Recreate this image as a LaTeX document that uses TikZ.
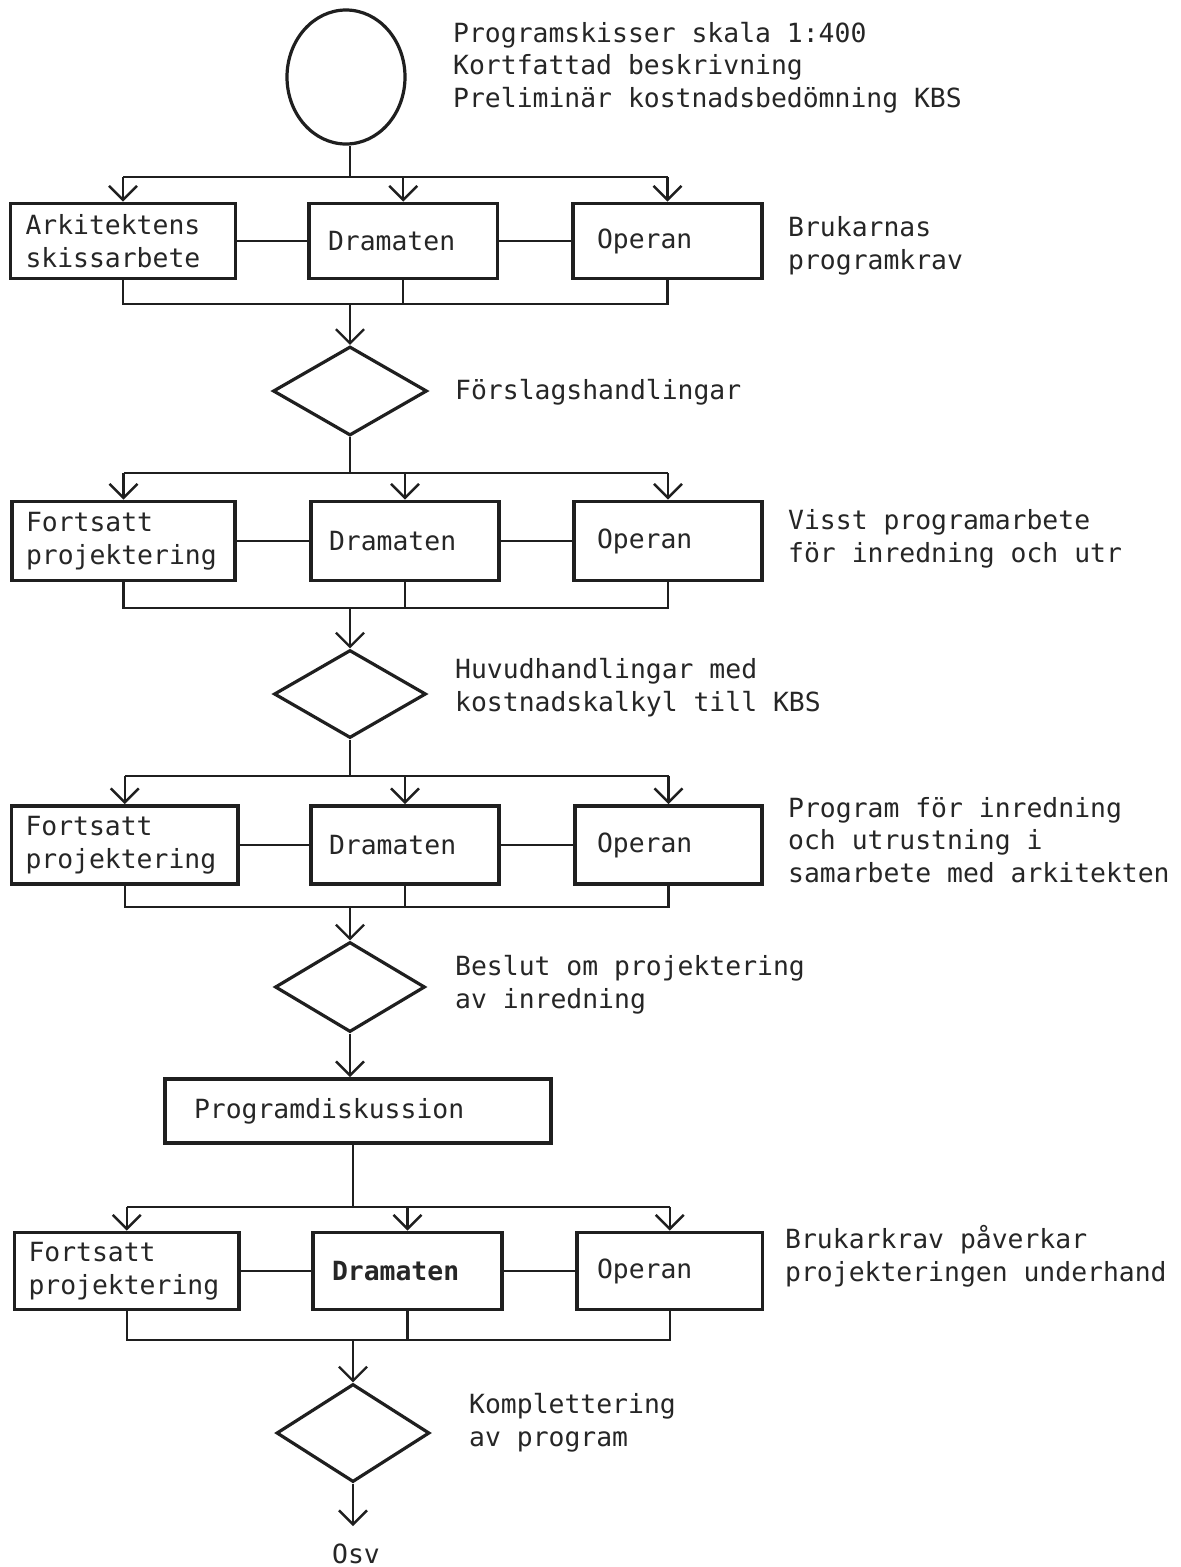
\documentclass[tikz,border=0pt]{standalone}
\usepackage{fontspec}
\setmainfont{DejaVu Sans Mono}
\setmonofont{DejaVu Sans Mono}
\usetikzlibrary{shapes.geometric,arrows.meta}
\newcommand\lblfont{\fontsize{26.4}{32.5}\selectfont}
\begin{document}
\begin{tikzpicture}[x=1pt,y=-1pt,
  every node/.style={font=\lblfont, text=black!85},
  ln/.style={line width=2.4pt, draw=black!88},
  arr/.style={ln, -{Straight Barb[length=14pt,width=28pt]}},
  bx/.style={draw=black!88, line width=3.8pt, align=left, inner ysep=0pt, anchor=center},
  dm/.style={draw=black!88, line width=3.2pt, diamond, inner sep=0pt},
  lbl/.style={anchor=base west, align=left, inner sep=0pt},
]
\fill[white] (0,0) rectangle (1181,1567);
\useasboundingbox (0,0) rectangle (1181,1567);

% start circle
\node[draw=black!88, line width=3.2pt, ellipse, inner sep=0pt, minimum width=118pt, minimum height=134pt] (st) at (346,77) {};
\node[lbl] (t0) at (453,107) {Programskisser skala 1:400\\Kortfattad beskrivning\\Preliminär kostnadsbedömning KBS};

% row 1
\node[bx, minimum width=225pt, minimum height=75pt, inner xsep=15pt, text width=195pt] (a1) at (123,241) {Arkitektens\\skissarbete};
\node[bx, minimum width=188.5pt, minimum height=75pt, inner xsep=19pt, text width=150.5pt] (b1) at (403.25,241) {Dramaten};
\node[bx, minimum width=189pt, minimum height=75pt, inner xsep=24pt, text width=141pt] (c1) at (667.5,241) {Operan};
\node[lbl] (t1) at (788,269) {Brukarnas\\programkrav};
\coordinate (s1) at (350,177);
\coordinate (m1) at (350,304);

% diamond 1
\node[dm, minimum width=154pt, minimum height=89pt] (d1) at (350,391) {};
\node[lbl] (t2) at (455,399) {Förslagshandlingar};

% row 2
\node[bx, minimum width=223pt, minimum height=79pt, inner xsep=14pt, text width=195pt] (a2) at (123.5,541) {Fortsatt\\projektering};
\node[bx, minimum width=188pt, minimum height=79pt, inner xsep=18pt, text width=152pt] (b2) at (405,541) {Dramaten};
\node[bx, minimum width=188pt, minimum height=79pt, inner xsep=23pt, text width=142pt] (c2) at (668,541) {Operan};
\node[lbl] (t3) at (788,562) {Visst programarbete\\för inredning och utr};
\coordinate (s2) at (350,473);
\coordinate (m2) at (350,608);

% diamond 2
\node[dm, minimum width=152pt, minimum height=88pt] (d2) at (350,694) {};
\node[lbl] (t4) at (455,711) {Huvudhandlingar med\\kostnadskalkyl till KBS};

% row 3
\node[bx, minimum width=226.5pt, minimum height=78pt, inner xsep=14pt, text width=198.5pt] (a3) at (124.75,845) {Fortsatt\\projektering};
\node[bx, minimum width=188pt, minimum height=78pt, inner xsep=18pt, text width=152pt] (b3) at (405,845) {Dramaten};
\node[bx, minimum width=187pt, minimum height=78pt, inner xsep=22pt, text width=143pt] (c3) at (668.5,845) {Operan};
\node[lbl] (t5) at (788,882) {Program för inredning\\och utrustning i\\samarbete med arkitekten};
\coordinate (s3) at (350,776);
\coordinate (m3) at (350,907);

% diamond 3
\node[dm, minimum width=150pt, minimum height=90pt] (d3) at (350,987) {};
\node[lbl] (t6) at (455,1008) {Beslut om projektering\\av inredning};

% programdiskussion
\node[bx, minimum width=386pt, minimum height=64pt, inner xsep=29pt, text width=328pt] (pd) at (358,1111) {Programdiskussion};

% row 4
\node[bx, minimum width=224.5pt, minimum height=77pt, inner xsep=14pt, text width=196.5pt] (a4) at (126.75,1271) {Fortsatt\\projektering};
\node[bx, minimum width=189pt, minimum height=77pt, inner xsep=19pt, text width=151pt] (b4) at (407.5,1271) {\bfseries Dramaten};
\node[bx, minimum width=185.5pt, minimum height=77pt, inner xsep=20pt, text width=145.5pt] (c4) at (669.75,1271) {Operan};
\node[lbl] (t7) at (785,1281) {Brukarkrav påverkar\\projekteringen underhand};
\coordinate (s4) at (353,1207);
\coordinate (m4) at (353,1340);

% diamond 4
\node[dm, minimum width=153pt, minimum height=98pt] (d4) at (353,1433) {};
\node[lbl] (t8) at (469,1446) {Komplettering\\av program};
\coordinate (e) at (353,1526);
\node[anchor=base, inner sep=0pt] (osv) at (356,1563) {Osv};

% ---- connectors ----
% circle to row 1
\draw[ln] (s1 |- st.south) -- (s1);
\draw[ln] (a1.north |- s1) -- (c1.north |- s1);
\draw[arr] (a1.north |- s1) -- (a1.north);
\draw[arr] (b1.north |- s1) -- (b1.north);
\draw[arr] (c1.north |- s1) -- (c1.north);
\draw[ln] (a1.east) -- (b1.west);
\draw[ln] (b1.east) -- (c1.west);
\draw[ln] (a1.south) -- (a1.south |- m1) -- (c1.south |- m1) -- (c1.south);
\draw[ln] (b1.south) -- (b1.south |- m1);
\draw[arr] (m1) -- (d1.north);

% diamond 1 to row 2
\draw[ln] (d1.south) -- (s2);
\draw[ln] (a2.north |- s2) -- (c2.north |- s2);
\draw[arr] (a2.north |- s2) -- (a2.north);
\draw[arr] (b2.north |- s2) -- (b2.north);
\draw[arr] (c2.north |- s2) -- (c2.north);
\draw[ln] (a2.east) -- (b2.west);
\draw[ln] (b2.east) -- (c2.west);
\draw[ln] (a2.south) -- (a2.south |- m2) -- (c2.south |- m2) -- (c2.south);
\draw[ln] (b2.south) -- (b2.south |- m2);
\draw[arr] (m2) -- (d2.north);

% diamond 2 to row 3
\draw[ln] (d2.south) -- (s3);
\draw[ln] (a3.north |- s3) -- (c3.north |- s3);
\draw[arr] (a3.north |- s3) -- (a3.north);
\draw[arr] (b3.north |- s3) -- (b3.north);
\draw[arr] (c3.north |- s3) -- (c3.north);
\draw[ln] (a3.east) -- (b3.west);
\draw[ln] (b3.east) -- (c3.west);
\draw[ln] (a3.south) -- (a3.south |- m3) -- (c3.south |- m3) -- (c3.south);
\draw[ln] (b3.south) -- (b3.south |- m3);
\draw[arr] (m3) -- (d3.north);

% diamond 3 to programdiskussion
\draw[arr] (d3.south) -- (d3.south |- pd.north);

% programdiskussion to row 4
\draw[ln] (s4 |- pd.south) -- (s4);
\draw[ln] (a4.north |- s4) -- (c4.north |- s4);
\draw[arr] (a4.north |- s4) -- (a4.north);
\draw[arr] (b4.north |- s4) -- (b4.north);
\draw[arr] (c4.north |- s4) -- (c4.north);
\draw[ln] (a4.east) -- (b4.west);
\draw[ln] (b4.east) -- (c4.west);
\draw[ln] (a4.south) -- (a4.south |- m4) -- (c4.south |- m4) -- (c4.south);
\draw[ln] (b4.south) -- (b4.south |- m4);
\draw[arr] (m4) -- (d4.north);

% end
\draw[arr] (d4.south) -- (e);
\end{tikzpicture}
\end{document}
